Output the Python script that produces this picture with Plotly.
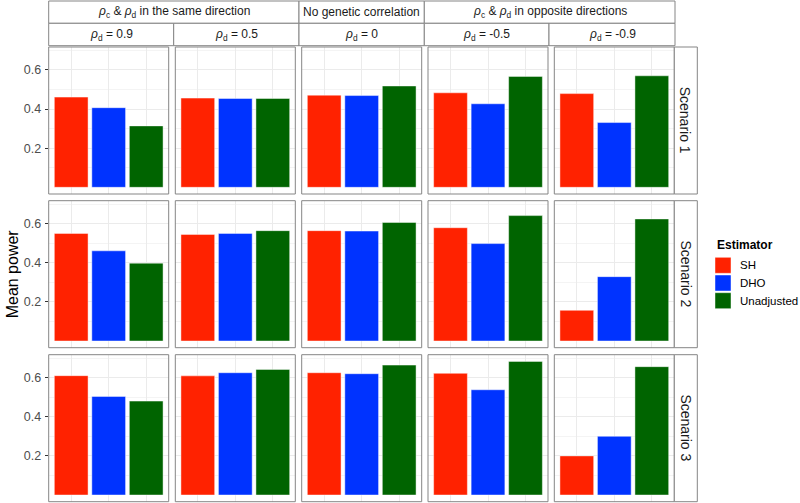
import plotly.graph_objects as go

# ---------------- data ----------------
estimators = ["SH", "DHO", "Unadjusted"]
est_colors = ["#FF2200", "#0033FF", "#006400"]
rho_d_values = ["0.9", "0.5", "0", "-0.5", "-0.9"]
group_labels = [
    "<i>ρ</i><sub>c</sub> &amp; <i>ρ</i><sub>d</sub> in the same direction",
    "No genetic correlation",
    "<i>ρ</i><sub>c</sub> &amp; <i>ρ</i><sub>d</sub> in opposite directions",
]
group_spans = [(0, 1), (2, 2), (3, 4)]
scenarios = ["Scenario 1", "Scenario 2", "Scenario 3"]

# rows = scenarios, columns = rho_d values
power_sh = [
    [0.461, 0.456, 0.471, 0.483, 0.479],
    [0.550, 0.545, 0.564, 0.579, 0.157],
    [0.610, 0.609, 0.625, 0.622, 0.200],
]
power_dho = [
    [0.407, 0.454, 0.469, 0.427, 0.331],
    [0.461, 0.550, 0.562, 0.498, 0.329],
    [0.504, 0.625, 0.620, 0.538, 0.300],
]
power_unadj = [
    [0.314, 0.454, 0.518, 0.567, 0.570],
    [0.398, 0.564, 0.606, 0.641, 0.624],
    [0.480, 0.642, 0.664, 0.683, 0.656],
]
series = [power_sh, power_dho, power_unadj]

y_ticks = [0.2, 0.4, 0.6]
y_minor = [0.1, 0.3, 0.5, 0.7]

# ---------------- layout geometry (pixels) ----------------
W, H = 800, 503
col_left = [48.7, 175.3, 301.7, 428.0, 554.3]
panel_w = 120.0
row_top = [47.0, 200.7, 354.7]
panel_h = 147.0
strip_x = [48.7, 173.7, 299.0, 424.3, 549.0, 675.0]
outer_top, outer_bot = 1.0, 23.3
inner_top, inner_bot = 23.3, 45.7
rstrip_l, rstrip_r = 674.3, 697.3

border_col = "#858585"
grid_col = "#EBEBEB"
minor_col = "#F4F4F4"
FONT = "Liberation Sans, Arial, sans-serif"


def px(x):
    return x / W


def py(y):
    return 1 - y / H


ymax = max(max(max(r) for r in s) for s in series)
y_range = [-0.05 * ymax, 1.05 * ymax]

fig = go.Figure()
layout = {}
shapes = []
annotations = []

for r in range(3):
    for c in range(5):
        idx = r * 5 + c + 1
        xs = "x" if idx == 1 else f"x{idx}"
        ys = "y" if idx == 1 else f"y{idx}"
        xk = "xaxis" if idx == 1 else f"xaxis{idx}"
        yk = "yaxis" if idx == 1 else f"yaxis{idx}"
        l = col_left[c]
        t = row_top[r]
        layout[xk] = dict(
            domain=[px(l), px(l + panel_w)],
            anchor=ys,
            type="category",
            categoryorder="array",
            categoryarray=estimators,
            range=[-0.6, 2.6],
            showticklabels=False,
            showgrid=True,
            gridcolor=grid_col,
            gridwidth=1,
            zeroline=False,
            showline=False,
            ticks="",
            fixedrange=True,
        )
        layout[yk] = dict(
            domain=[py(t + panel_h), py(t)],
            anchor=xs,
            range=y_range,
            tickvals=y_ticks,
            ticktext=[f"{v:.1f}" for v in y_ticks],
            showticklabels=(c == 0),
            ticks="outside" if c == 0 else "",
            ticklen=3,
            tickcolor="#333333",
            ticklabelstandoff=1,
            tickfont=dict(size=12.5, color="#4D4D4D", family=FONT),
            showgrid=True,
            gridcolor=grid_col,
            gridwidth=1,
            minor=dict(tickvals=y_minor, showgrid=True, gridcolor=minor_col, gridwidth=1),
            zeroline=False,
            showline=False,
            fixedrange=True,
        )
        for k, est in enumerate(estimators):
            fig.add_trace(
                go.Bar(
                    x=[est],
                    y=[series[k][r][c]],
                    width=0.9,
                    marker=dict(color=est_colors[k],
                                line=dict(color="rgba(255,255,255,0.45)", width=1)),
                    name=est,
                    legendgroup=est,
                    showlegend=False,
                    xaxis=xs,
                    yaxis=ys,
                )
            )
        # panel border
        shapes.append(dict(type="rect", xref="paper", yref="paper",
                           x0=px(l), x1=px(l + panel_w), y0=py(t + panel_h), y1=py(t),
                           line=dict(color=border_col, width=1), layer="above"))

# top strips: outer (groups)
for (a, b), lab in zip(group_spans, group_labels):
    x0, x1 = strip_x[a], strip_x[b + 1]
    shapes.append(dict(type="rect", xref="paper", yref="paper",
                       x0=px(x0), x1=px(x1), y0=py(outer_bot), y1=py(outer_top),
                       line=dict(color=border_col, width=1), fillcolor="white", layer="above"))
    annotations.append(dict(text=lab, x=px((x0 + x1) / 2), y=py((outer_top + outer_bot) / 2),
                            xref="paper", yref="paper", showarrow=False,
                            xanchor="center", yanchor="middle",
                            font=dict(size=12, color="#1A1A1A", family=FONT)))
# top strips: inner (rho_d)
for c, v in enumerate(rho_d_values):
    x0, x1 = strip_x[c], strip_x[c + 1]
    shapes.append(dict(type="rect", xref="paper", yref="paper",
                       x0=px(x0), x1=px(x1), y0=py(inner_bot), y1=py(inner_top),
                       line=dict(color=border_col, width=1), fillcolor="white", layer="above"))
    annotations.append(dict(text=f"<i>ρ</i><sub>d</sub> = {v}", x=px((x0 + x1) / 2),
                            y=py((inner_top + inner_bot) / 2),
                            xref="paper", yref="paper", showarrow=False,
                            xanchor="center", yanchor="middle",
                            font=dict(size=12, color="#1A1A1A", family=FONT)))
# right strips
for r, s in enumerate(scenarios):
    t = row_top[r]
    shapes.append(dict(type="rect", xref="paper", yref="paper",
                       x0=px(rstrip_l), x1=px(rstrip_r), y0=py(t + panel_h), y1=py(t),
                       line=dict(color=border_col, width=1), fillcolor="white", layer="above"))
    annotations.append(dict(text=s, x=px((rstrip_l + rstrip_r) / 2), y=py(t + panel_h / 2),
                            xref="paper", yref="paper", showarrow=False, textangle=90,
                            xanchor="center", yanchor="middle",
                            font=dict(size=14, color="#1A1A1A", family=FONT)))

# y-axis title
annotations.append(dict(text="Mean power", x=px(12), y=py((row_top[0] + row_top[2] + panel_h) / 2),
                        xref="paper", yref="paper", showarrow=False, textangle=-90,
                        xanchor="center", yanchor="middle",
                        font=dict(size=16, color="black", family=FONT)))

# legend (drawn manually to match key size)
leg_x = 715.0
annotations.append(dict(text="<b>Estimator</b>", x=px(leg_x), y=py(245),
                        xref="paper", yref="paper", showarrow=False,
                        xanchor="left", yanchor="middle",
                        font=dict(size=12, color="black", family=FONT)))
key_tops = [257.3, 275.0, 292.7]
for k, est in enumerate(estimators):
    kt = key_tops[k]
    shapes.append(dict(type="rect", xref="paper", yref="paper",
                       x0=px(leg_x), x1=px(leg_x + 16), y0=py(kt + 16), y1=py(kt),
                       line=dict(color="rgba(255,255,255,0.45)", width=1),
                       fillcolor=est_colors[k], layer="above"))
    annotations.append(dict(text=est, x=px(737.5), y=py(kt + 8),
                            xref="paper", yref="paper", showarrow=False,
                            xanchor="left", yanchor="middle",
                            font=dict(size=11.5, color="black", family=FONT)))

fig.update_layout(
    width=W, height=H,
    margin=dict(l=0, r=0, t=0, b=0),
    paper_bgcolor="white",
    plot_bgcolor="white",
    barmode="overlay",
    showlegend=False,
    shapes=shapes,
    annotations=annotations,
    font=dict(family=FONT),
    **layout,
)

fig.write_html(
    "out.html",
    config={"displayModeBar": False},
    post_script="document.body.style.margin='0';document.body.style.overflow='hidden';",
)
